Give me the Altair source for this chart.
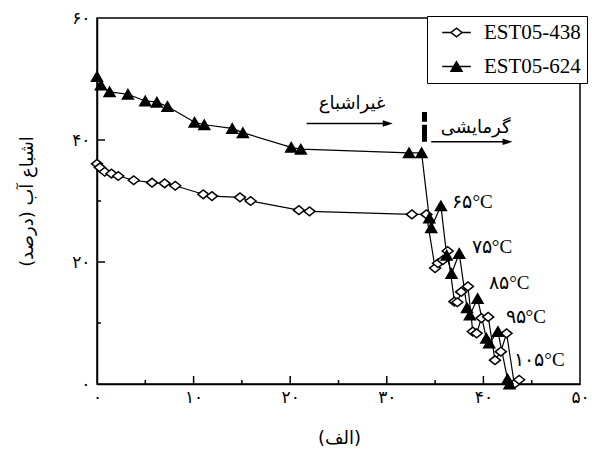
import altair as alt
import pandas as pd

# ---------------- data ----------------
s1_name = "EST05-438"
s1_x = [0.0, 0.3, 0.8, 1.5, 2.2, 3.8, 5.7, 7.0, 8.1, 11.0, 11.9, 14.8, 15.9, 20.9, 22.0, 32.6, 34.1,
        35.0, 35.3, 35.8, 36.3, 37.0, 37.3, 37.7, 38.4, 38.9, 39.3, 39.8, 40.5, 41.2, 41.8, 42.4, 43.2, 43.7]
s1_y = [36.1, 35.5, 34.8, 34.5, 34.1, 33.4, 33.0, 32.9, 32.5, 31.1, 30.8, 30.6, 30.0, 28.5, 28.3, 27.8, 27.8,
        19.0, 19.8, 20.3, 21.8, 13.5, 13.4, 15.1, 16.0, 8.6, 8.3, 10.8, 11.0, 3.9, 5.3, 8.3, 0.0, 0.7]

s2_name = "EST05-624"
s2_x = [0.0, 0.4, 1.3, 3.2, 5.0, 6.2, 7.3, 10.1, 11.1, 14.0, 15.1, 20.1, 21.1, 32.3, 33.6,
        34.4, 34.6, 35.6, 36.2, 36.7, 37.5, 38.3, 38.6, 39.4, 40.3, 40.6, 41.5, 42.5, 42.7]
s2_y = [50.4, 49.0, 47.9, 47.5, 46.4, 46.2, 45.5, 42.9, 42.5, 41.9, 41.2, 38.8, 38.5, 37.9, 37.9,
        27.2, 25.6, 29.2, 21.1, 18.1, 21.4, 12.5, 11.3, 14.0, 7.5, 6.7, 8.6, 0.8, 0.0]

x_tick_values = [0, 10, 20, 30, 40, 50]
x_tick_labels = ["۰", "۱۰", "۲۰", "۳۰", "۴۰", "۵۰"]
y_tick_values = [0, 20, 40, 60]
y_tick_labels = ["۰", "۲۰", "۴۰", "۶۰"]
x_major_ticks = [10, 20, 30, 40]
x_minor_ticks = [5, 15, 25, 35, 45]
y_major_ticks = [20, 40]
y_minor_ticks = [10, 30, 50]

x_title = "(الف)"
y_title = "اشباع آب (درصد)"

temp_labels = ["۶۵°C", "۷۵°C", "۸۵°C", "۹۵°C", "۱۰۵°C"]
temp_x = [36.8, 38.8, 40.6, 42.3, 43.2]
temp_y = [29.8, 22.5, 16.6, 11.0, 3.9]

phase_labels = ["غیراشباع", "گرمایشی"]
phase_x = [26.4, 39.2]
phase_y = [45.9, 42.0]
arrow_x1 = [21.7, 34.6]
arrow_x2 = [30.1, 42.5]
arrow_y = [42.7, 39.7]
divider_x = [33.9]
divider_y1 = [39.7]
divider_y2 = [44.6]

# ---------------- tables ----------------
series = pd.concat([
    pd.DataFrame({"x": s1_x, "y": s1_y, "s": s1_name, "o": range(len(s1_x))}),
    pd.DataFrame({"x": s2_x, "y": s2_y, "s": s2_name, "o": range(len(s2_x))}),
])
series["sl"] = series["s"]
series["sp"] = series["s"]

temps = pd.DataFrame({"x": temp_x, "y": temp_y, "t": temp_labels})
phases = pd.DataFrame({"x": phase_x, "y": phase_y, "t": phase_labels})
arrows = pd.DataFrame({"x": arrow_x1, "x2": arrow_x2, "y": arrow_y})
divider = pd.DataFrame({"x": divider_x, "y": divider_y1, "y2": divider_y2})
xmaj = pd.DataFrame({"x": x_major_ticks})
xmin = pd.DataFrame({"x": x_minor_ticks})
ymaj = pd.DataFrame({"y": y_major_ticks})
ymin = pd.DataFrame({"y": y_minor_ticks})

W, H = 483, 366


def label_expr(vals, labs):
    return " : ".join(f"datum.value == {v} ? '{l}'" for v, l in zip(vals, labs)) + " : ''"


xscale = alt.Scale(domain=[0, 50], nice=False, zero=False)
yscale = alt.Scale(domain=[0, 60], nice=False, zero=False)
xaxis = alt.Axis(values=x_tick_values, labelExpr=label_expr(x_tick_values, x_tick_labels),
                 ticks=False, tickSize=0, labelPadding=5, labelFontSize=17, labelFont="DejaVu Sans",
                 labelColor="black", grid=False, title=x_title, titleFont="DejaVu Sans",
                 titleFontSize=18, titleFontWeight="normal", titleColor="black",
                 titleX=242, titleY=54, titleBaseline="middle", labelFlush=False)
yaxis = alt.Axis(values=y_tick_values, labelExpr=label_expr(y_tick_values, y_tick_labels),
                 ticks=False, tickSize=0, labelPadding=7, labelFontSize=17, labelFont="DejaVu Sans",
                 labelColor="black", grid=False, title=y_title, titleFont="DejaVu Sans",
                 titleFontSize=18, titleFontWeight="normal", titleColor="black",
                 titleX=-70, titleY=H / 2, titleBaseline="middle", titleAlign="center", labelFlush=False)


def X(f="x"):
    return alt.X(f, type="quantitative", scale=xscale, axis=xaxis)


def Y(f="y"):
    return alt.Y(f, type="quantitative", scale=yscale, axis=yaxis)


diamond_path = "M-1,0L0,-0.8L1,0L0,0.8Z"
arrow_path = "M1,0L-1,-0.65L-1,0.65Z"
legend_line_path = "M-2.6,0H2.6"

LEG_X, LEG_Y = 330, -2
common_leg = dict(orient="none", legendX=LEG_X, legendY=LEG_Y, title=None,
                  symbolSize=121, symbolStrokeWidth=1.5, symbolOffset=13,
                  labelFont="Liberation Serif", labelFontSize=21,
                  padding=6, rowPadding=12, labelOffset=17, labelLimit=0)

lines = alt.Chart(series).mark_line(strokeWidth=1.2).encode(
    x=X(), y=Y(), order="o:Q",
    color=alt.Color("sl:N", scale=alt.Scale(domain=[s1_name, s2_name], range=["black", "black"]),
                    legend=alt.Legend(symbolType=legend_line_path, labelColor="black",
                                      strokeColor="black", fillColor="white", zindex=1, **common_leg)),
)

pt_legend = alt.Legend(symbolStrokeColor="black", labelOpacity=0, zindex=2, **common_leg)

points = alt.Chart(series).mark_point(filled=True, strokeWidth=1.5, size=120, opacity=1).encode(
    x=X(), y=Y(),
    shape=alt.Shape("sp:N", scale=alt.Scale(domain=[s1_name, s2_name], range=[diamond_path, "triangle-up"]),
                    legend=pt_legend),
    fill=alt.Fill("sp:N", scale=alt.Scale(domain=[s1_name, s2_name], range=["white", "black"]),
                  legend=pt_legend),
    stroke=alt.Stroke("sp:N", scale=alt.Scale(domain=[s1_name, s2_name], range=["black", "black"]),
                      legend=pt_legend),
)

xt_major = alt.Chart(xmaj).mark_rule(color="black", strokeWidth=1.5).encode(
    x=X(), y=alt.value(H), y2=alt.value(H - 8))
xt_minor = alt.Chart(xmin).mark_rule(color="black", strokeWidth=1.5).encode(
    x=X(), y=alt.value(H), y2=alt.value(H - 4))
yt_major = alt.Chart(ymaj).mark_rule(color="black", strokeWidth=1.5).encode(
    y=Y(), x=alt.value(0), x2=alt.value(8))
yt_minor = alt.Chart(ymin).mark_rule(color="black", strokeWidth=1.5).encode(
    y=Y(), x=alt.value(0), x2=alt.value(4))

temp_text = alt.Chart(temps).mark_text(align="left", baseline="middle", font="Liberation Serif",
                                       fontSize=19, color="black").encode(x=X(), y=Y(), text="t:N")
phase_text = alt.Chart(phases).mark_text(align="center", baseline="middle", font="DejaVu Sans",
                                         fontSize=18, color="black").encode(x=X(), y=Y(), text="t:N")
arrow_shaft = alt.Chart(arrows).mark_rule(color="black", strokeWidth=1.5).encode(
    x=X(), x2="x2:Q", y=Y())
arrow_head = alt.Chart(arrows).mark_point(shape=arrow_path, filled=True, color="black", size=100,
                                          opacity=1).encode(x=X("x2"), y=Y())
divider_bar = alt.Chart(divider).mark_rule(color="black", strokeWidth=5, strokeDash=[17, 3]).encode(
    x=X(), y=Y(), y2="y2:Q")

chart = alt.layer(
    xt_major, xt_minor, yt_major, yt_minor,
    lines, points, temp_text, phase_text, arrow_shaft, arrow_head, divider_bar,
).resolve_legend(color="independent").properties(
    width=W, height=H,
    autosize=alt.AutoSizeParams(type="none"),
    padding={"left": 97, "top": 18, "right": 12, "bottom": 72},
    background="white",
).configure_view(stroke="black", strokeWidth=1.5).configure_axis(
    domainColor="black", domainWidth=1.5
)

chart.save("out.html", embed_options={"renderer": "svg", "actions": False})
